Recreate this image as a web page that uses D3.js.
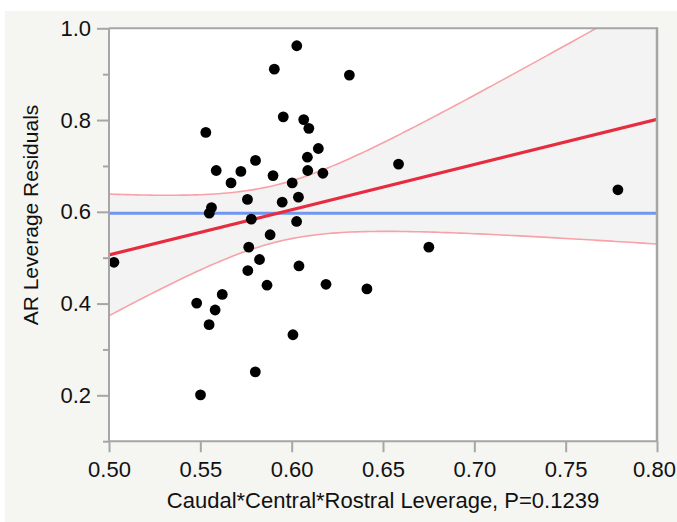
<!DOCTYPE html>
<html><head><meta charset="utf-8">
<script src="https://cdn.jsdelivr.net/npm/d3@7"></script>
<style>html,body{margin:0;padding:0;background:#fff;}svg{display:block;font-family:"Liberation Sans",Arial,Helvetica,sans-serif;}</style>
</head><body>
<script>
// Data
const leverageX = [0.5027,0.5480,0.5501,0.5530,0.5549,0.5561,0.5548,0.5581,0.5587,0.5620,0.5668,0.5722,0.5758,0.5760,0.5765,0.5779,0.5802,0.5801,0.5824,0.5865,0.5882,0.5898,0.5905,0.5948,0.5954,0.6003,0.6007,0.6028,0.6027,0.6037,0.6040,0.6066,0.6086,0.6088,0.6094,0.6146,0.6171,0.6188,0.6316,0.6412,0.6585,0.6751,0.7786];
const residualY = [0.490,0.401,0.201,0.773,0.597,0.609,0.354,0.386,0.690,0.420,0.663,0.688,0.627,0.472,0.523,0.584,0.712,0.251,0.496,0.440,0.550,0.679,0.911,0.621,0.807,0.663,0.332,0.962,0.579,0.632,0.482,0.801,0.719,0.690,0.782,0.738,0.684,0.442,0.898,0.432,0.704,0.523,0.648];
const xTicks = [0.50,0.55,0.60,0.65,0.70,0.75,0.80];
const yTicks = [0.2,0.4,0.6,0.8,1.0];
const yMinorTicks = [0.1,0.3,0.5,0.7,0.9];
// Fit parameters
const meanY = 0.597;
const fitIntercept = 0.506, fitSlope = 0.986, fitX0 = 0.5;
const bandA = 0.00387, bandB = 1.6206, bandCenter = 0.592;
const xLabel = "Caudal*Central*Rostral Leverage, P=0.1239";
const yLabel = "AR Leverage Residuals";

const W = 677, H = 522;
const L = 109, R = 657, T = 28.3, B = 441.2;
const svg = d3.select("body").append("svg").attr("width", W).attr("height", H);
svg.append("rect").attr("x",5).attr("y",11).attr("width",W-5).attr("height",H-11).attr("fill","#f5f5f1");
svg.append("rect").attr("x",L).attr("y",T).attr("width",R-L).attr("height",B-T).attr("fill","#ffffff");

const x = d3.scaleLinear().domain([0.5,0.8]).range([L,R]);
const y = d3.scaleLinear().domain([0.1,1.0]).range([B,T]);

svg.append("clipPath").attr("id","clip").append("rect").attr("x",L).attr("y",T).attr("width",R-L).attr("height",B-T);
const g = svg.append("g").attr("clip-path","url(#clip)");

const fit = v => fitIntercept + fitSlope*(v - fitX0);
const half = v => Math.sqrt(bandA + bandB*(v-bandCenter)*(v-bandCenter));
const grid = d3.range(0.5, 0.8001, 0.0025);
g.append("path").datum(grid)
  .attr("d", d3.area().x(d=>x(d)).y0(d=>y(fit(d)-half(d))).y1(d=>y(fit(d)+half(d))))
  .attr("fill","#f3f3f3");
const curve = s => d3.line().x(d=>x(d)).y(d=>y(fit(d)+s*half(d)));
g.append("path").datum(grid).attr("d",curve(1)).attr("fill","none").attr("stroke","#f7a2a8").attr("stroke-width",1.6);
g.append("path").datum(grid).attr("d",curve(-1)).attr("fill","none").attr("stroke","#f7a2a8").attr("stroke-width",1.6);
g.append("line").attr("x1",x(0.5)).attr("x2",x(0.8)).attr("y1",y(meanY)).attr("y2",y(meanY)).attr("stroke","#7096f2").attr("stroke-width",3);
g.append("line").attr("x1",x(0.5)).attr("x2",x(0.8)).attr("y1",y(fit(0.5))).attr("y2",y(fit(0.8))).attr("stroke","#e82c40").attr("stroke-width",3.2);

g.selectAll("circle.pt").data(leverageX.map((v,i)=>[v,residualY[i]])).enter().append("circle")
  .attr("cx",d=>x(d[0])).attr("cy",d=>y(d[1])).attr("r",5.4).attr("fill","#000");

// frame
const axisColor = "#a6a6a6";
svg.append("line").attr("x1",L).attr("x2",R).attr("y1",T).attr("y2",T).attr("stroke",axisColor).attr("stroke-width",2);
svg.append("line").attr("x1",R).attr("x2",R).attr("y1",T-1).attr("y2",B).attr("stroke",axisColor).attr("stroke-width",2.5);

// axes
const xAxis = d3.axisBottom(x).tickValues(xTicks).tickFormat(d3.format(".2f")).tickSize(11).tickPadding(9);
const gx = svg.append("g").attr("transform",`translate(0,${B})`).call(xAxis);
const yAxis = d3.axisLeft(y).tickValues(yTicks).tickFormat(d3.format(".1f")).tickSize(12).tickPadding(6);
const gy = svg.append("g").attr("transform",`translate(${L},0)`).call(yAxis);
const yMinor = d3.axisLeft(y).tickValues(yMinorTicks).tickFormat("").tickSize(6);
const gym = svg.append("g").attr("transform",`translate(${L},0)`).call(yMinor);
[gx,gy,gym].forEach(a=>{
  a.select(".domain").attr("stroke",axisColor).attr("stroke-width",2);
  a.selectAll(".tick line").attr("stroke",axisColor).attr("stroke-width",2);
  a.selectAll("text").attr("fill","#111").attr("font-size",22).attr("font-family","'Liberation Sans',Arial,sans-serif");
});
gx.selectAll(".tick text").filter(d=>d===0.80).attr("dx",-3);
gx.select(".domain").attr("d",`M${L},0H${R}`);
gy.select(".domain").attr("d",`M0,${T}V${B}`);
gym.select(".domain").remove();

svg.append("text").attr("x",(L+R)/2).attr("y",508).attr("text-anchor","middle")
  .attr("font-size",22).attr("fill","#111").text(xLabel);
svg.append("text").attr("transform","translate(38,215) rotate(-90)").attr("text-anchor","middle")
  .attr("font-size",21).attr("fill","#111").text(yLabel);
</script>
</body></html>
